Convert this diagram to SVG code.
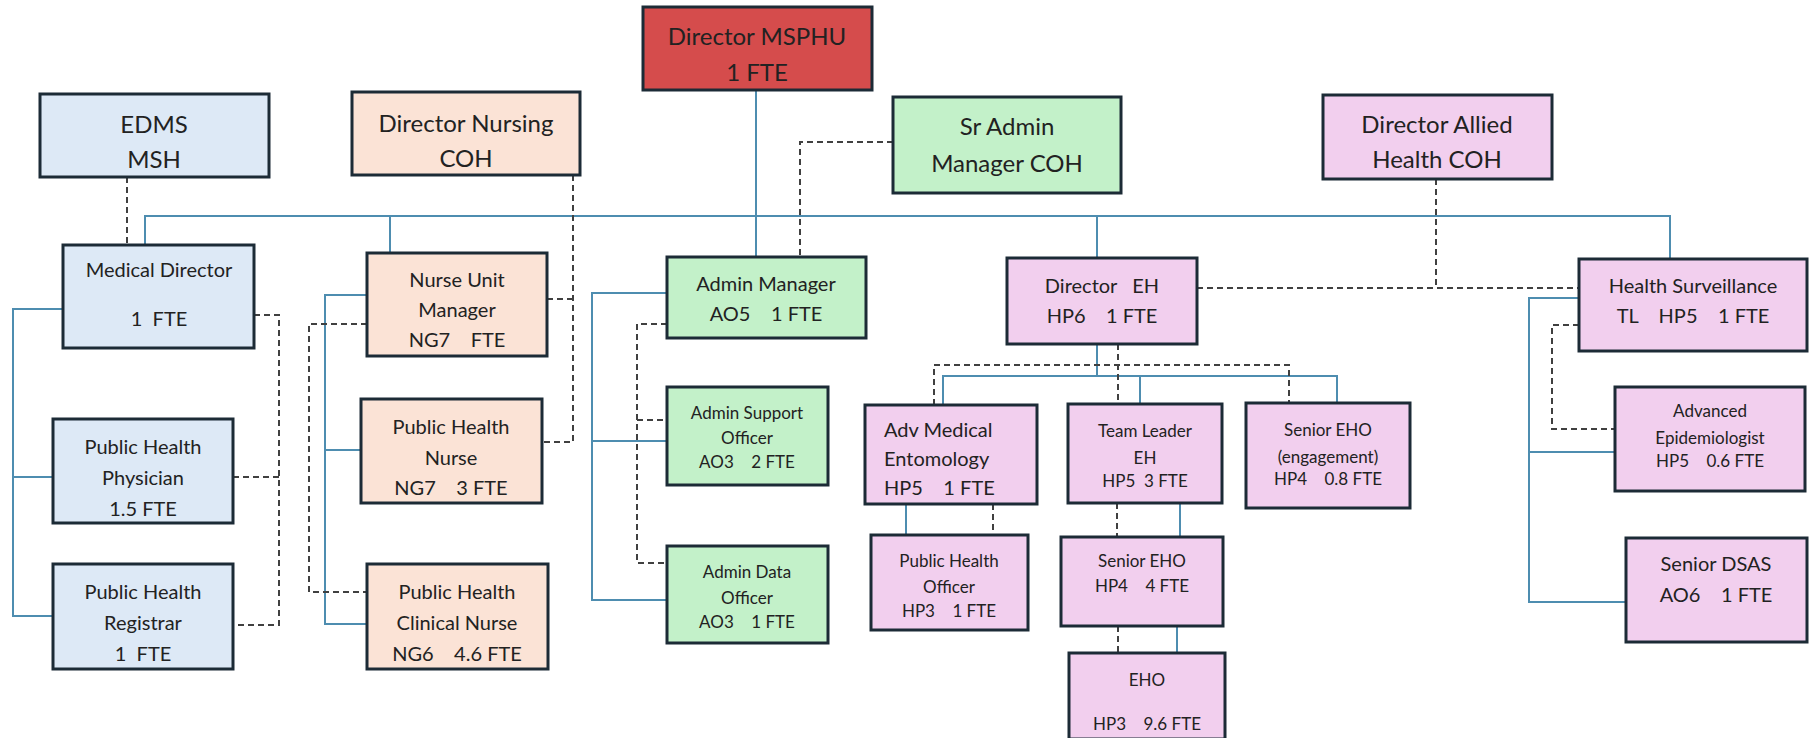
<svg xmlns="http://www.w3.org/2000/svg" width="1809" height="738" viewBox="0 0 1809 738">
<style>
.box{stroke:#1c2b36;stroke-width:3}
.blue{fill:#dde9f6}.peach{fill:#fbe3d6}.red{fill:#d54c4c}.green{fill:#c3f1c9}.pink{fill:#f2cfee}
text{font-family:Lato,"Open Sans","Noto Sans",sans-serif;fill:#222222;text-anchor:middle;dominant-baseline:central}
.L{font-size:24px}.M{font-size:20px}.S{font-size:17px}
.ln{fill:none;stroke:#4e8db0;stroke-width:2}
.ds{fill:none;stroke:#404040;stroke-width:2;stroke-dasharray:6 4}
</style>
<rect width="1809" height="738" fill="#ffffff"/>
<g id="connectors">
<path class="ln" d="M145,245 V216 H1670 V259"/>
<path class="ln" d="M390,216 V253"/>
<path class="ln" d="M756,90 V257"/>
<path class="ln" d="M1097,216 V258"/>
<path class="ln" d="M63,309 H13 V616 H53 M13,477 H53"/>
<path class="ln" d="M367,295 H325 V624 H367 M325,450 H361"/>
<path class="ln" d="M667,293 H592 V600 H667 M592,441 H667"/>
<path class="ln" d="M1097,344 V376 M943,405 V376 H1337 V403 M1140,376 V404"/>
<path class="ln" d="M906,504 V535 M1180,503 V537 M1177,626 V653"/>
<path class="ln" d="M1579,298 H1529 V602 H1626 M1529,452 H1615"/>
<path class="ds" d="M127,177 V245"/>
<path class="ds" d="M254,315 H279 V625 H233 M233,477 H279"/>
<path class="ds" d="M573,175 V442 H542 M547,299 H573"/>
<path class="ds" d="M367,324 H309 V592 H367"/>
<path class="ds" d="M893,142 H800 V257"/>
<path class="ds" d="M667,324 H637 V563 H667 M637,420 H667"/>
<path class="ds" d="M1118,344 V404 M934,405 V365 H1289 V403"/>
<path class="ds" d="M993,504 V535 M1117,503 V537 M1118,626 V653"/>
<path class="ds" d="M1197,288 H1579 M1436,179 V288"/>
<path class="ds" d="M1579,325 H1552 V429 H1615"/>
</g>
<g id="director-msphu"><rect class="box red" x="643" y="7" width="229" height="83"/><text class="L" x="757" y="35">Director MSPHU</text><text class="L" x="757" y="71">1 FTE</text></g>
<g id="edms"><rect class="box blue" x="40" y="94" width="229" height="83"/><text class="L" x="154" y="123">EDMS</text><text class="L" x="154" y="158">MSH</text></g>
<g id="director-nursing"><rect class="box peach" x="352" y="92" width="228" height="83"/><text class="L" x="466" y="122">Director Nursing</text><text class="L" x="466" y="157">COH</text></g>
<g id="sr-admin"><rect class="box green" x="893" y="97" width="228" height="96"/><text class="L" x="1007" y="125">Sr Admin</text><text class="L" x="1007" y="162">Manager COH</text></g>
<g id="director-allied"><rect class="box pink" x="1323" y="95" width="229" height="84"/><text class="L" x="1437" y="123">Director Allied</text><text class="L" x="1437" y="158">Health COH</text></g>
<g id="medical-director"><rect class="box blue" x="63" y="245" width="191" height="103"/><text class="M" x="159" y="269">Medical Director</text><text class="M" x="159" y="318" xml:space="preserve">1  FTE</text></g>
<g id="ph-physician"><rect class="box blue" x="53" y="419" width="180" height="104"/><text class="M" x="143" y="446">Public Health</text><text class="M" x="143" y="477">Physician</text><text class="M" x="143" y="508">1.5 FTE</text></g>
<g id="ph-registrar"><rect class="box blue" x="53" y="564" width="180" height="105"/><text class="M" x="143" y="591">Public Health</text><text class="M" x="143" y="622">Registrar</text><text class="M" x="143" y="653" xml:space="preserve">1  FTE</text></g>
<g id="nurse-unit-manager"><rect class="box peach" x="367" y="253" width="180" height="103"/><text class="M" x="457" y="279">Nurse Unit</text><text class="M" x="457" y="309">Manager</text><text class="M" x="457" y="339" xml:space="preserve">NG7    FTE</text></g>
<g id="ph-nurse"><rect class="box peach" x="361" y="399" width="181" height="104"/><text class="M" x="451" y="426">Public Health</text><text class="M" x="451" y="457">Nurse</text><text class="M" x="451" y="487" xml:space="preserve">NG7    3 FTE</text></g>
<g id="ph-clinical-nurse"><rect class="box peach" x="367" y="564" width="181" height="105"/><text class="M" x="457" y="591">Public Health</text><text class="M" x="457" y="622">Clinical Nurse</text><text class="M" x="457" y="653" xml:space="preserve">NG6    4.6 FTE</text></g>
<g id="admin-manager"><rect class="box green" x="667" y="257" width="199" height="81"/><text class="M" x="766" y="283">Admin Manager</text><text class="M" x="766" y="313" xml:space="preserve">AO5    1 FTE</text></g>
<g id="admin-support"><rect class="box green" x="667" y="387" width="161" height="98"/><text class="S" x="747" y="412">Admin Support</text><text class="S" x="747" y="437">Officer</text><text class="S" x="747" y="461" xml:space="preserve">AO3    2 FTE</text></g>
<g id="admin-data"><rect class="box green" x="667" y="546" width="161" height="97"/><text class="S" x="747" y="571">Admin Data</text><text class="S" x="747" y="597">Officer</text><text class="S" x="747" y="621" xml:space="preserve">AO3    1 FTE</text></g>
<g id="director-eh"><rect class="box pink" x="1007" y="258" width="190" height="86"/><text class="M" x="1102" y="285" xml:space="preserve">Director   EH</text><text class="M" x="1102" y="315" xml:space="preserve">HP6    1 FTE</text></g>
<g id="adv-med-ent"><rect class="box pink" x="865" y="405" width="172" height="99"/><text class="M" x="884" y="429" style="text-anchor:start">Adv Medical</text><text class="M" x="884" y="458" style="text-anchor:start">Entomology</text><text class="M" x="884" y="487" style="text-anchor:start" xml:space="preserve">HP5    1 FTE</text></g>
<g id="ph-officer"><rect class="box pink" x="871" y="535" width="157" height="95"/><text class="S" x="949" y="560">Public Health</text><text class="S" x="949" y="586">Officer</text><text class="S" x="949" y="610" xml:space="preserve">HP3    1 FTE</text></g>
<g id="team-leader-eh"><rect class="box pink" x="1068" y="404" width="154" height="99"/><text class="S" x="1145" y="430">Team Leader</text><text class="S" x="1145" y="457">EH</text><text class="S" x="1145" y="480" xml:space="preserve">HP5  3 FTE</text></g>
<g id="senior-eho-eng"><rect class="box pink" x="1246" y="403" width="164" height="105"/><text class="S" x="1328" y="429">Senior EHO</text><text class="S" x="1328" y="456">(engagement)</text><text class="S" x="1328" y="478" xml:space="preserve">HP4    0.8 FTE</text></g>
<g id="senior-eho"><rect class="box pink" x="1061" y="537" width="162" height="89"/><text class="S" x="1142" y="560">Senior EHO</text><text class="S" x="1142" y="585" xml:space="preserve">HP4    4 FTE</text></g>
<g id="eho"><rect class="box pink" x="1069" y="653" width="156" height="86"/><text class="S" x="1147" y="679">EHO</text><text class="S" x="1147" y="723" xml:space="preserve">HP3    9.6 FTE</text></g>
<g id="health-surveillance"><rect class="box pink" x="1579" y="259" width="228" height="92"/><text class="M" x="1693" y="285">Health Surveillance</text><text class="M" x="1693" y="315" xml:space="preserve">TL    HP5    1 FTE</text></g>
<g id="adv-epi"><rect class="box pink" x="1615" y="387" width="190" height="104"/><text class="S" x="1710" y="410">Advanced</text><text class="S" x="1710" y="437">Epidemiologist</text><text class="S" x="1710" y="460" xml:space="preserve">HP5    0.6 FTE</text></g>
<g id="senior-dsas"><rect class="box pink" x="1626" y="538" width="181" height="104"/><text class="M" x="1716" y="563">Senior DSAS</text><text class="M" x="1716" y="594" xml:space="preserve">AO6    1 FTE</text></g>
</svg>
